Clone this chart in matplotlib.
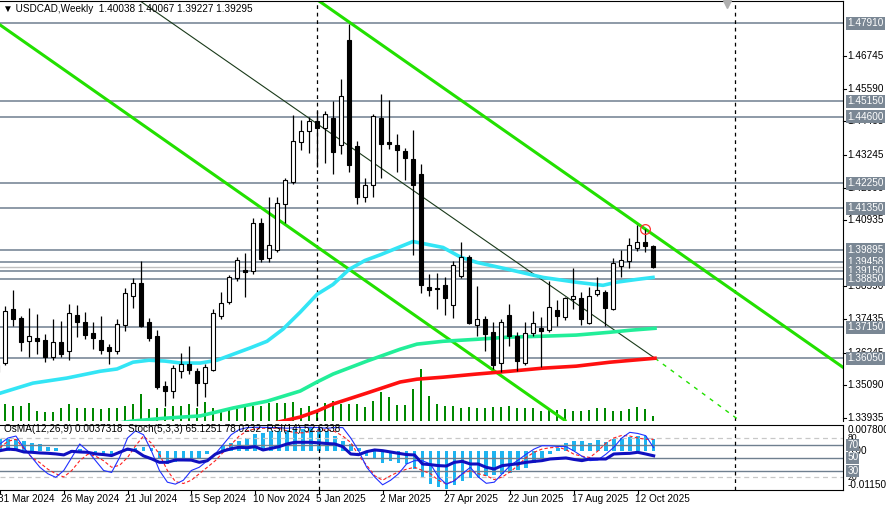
import matplotlib
matplotlib.use("Agg")
import matplotlib.pyplot as plt
import numpy as np

# weekly USDCAD bars, index 0 = 31 Mar 2024
opens = [1.3581,1.3588,1.3778,1.3746,1.3665,1.3676,1.3669,1.3609,1.3662,1.3630,
         1.3757,1.3732,1.3694,1.3669,1.3644,1.3630,1.3722,1.3824,1.3870,1.3732,
         1.3683,1.3506,1.3489,1.3559,1.3584,1.3559,1.3517,1.3563,1.3754,1.3803,
         1.3888,1.3919,1.3912,1.4085,1.3958,1.3987,1.4152,1.4230,1.4371,1.4410,
         1.4445,1.4421,1.4456,1.4361,1.4731,1.4357,1.4177,1.4219,1.4456,1.4371,
         1.4361,1.4339,1.4311,1.4258,1.3856,1.3852,1.3863,1.3792,1.3895,1.3965,
         1.3722,1.3743,1.3697,1.3588,1.3757,1.3683,1.3588,1.3694,1.3711,1.3704,
         1.3775,1.3750,1.3814,1.3817,1.3729,1.3831,1.3838,1.3778,1.3930,1.3948,
         1.3994,1.4015,1.40038]
highs = [1.3634,1.3789,1.3845,1.3754,1.3782,1.3761,1.3690,1.3743,1.3736,1.3796,
         1.3792,1.3768,1.3732,1.3754,1.3655,1.3743,1.3852,1.3888,1.3948,1.3746,
         1.3704,1.3524,1.3581,1.3623,1.3648,1.3570,1.3584,1.3778,1.3838,1.3898,
         1.3962,1.3976,1.4103,1.4103,1.4177,1.4174,1.4244,1.4467,1.4449,1.4460,
         1.4481,1.4481,1.4516,1.4594,1.4788,1.4375,1.4244,1.4470,1.4541,1.4520,
         1.4400,1.4350,1.4414,1.4294,1.3902,1.3905,1.3891,1.3948,1.4015,1.3972,
         1.3859,1.3754,1.3732,1.3743,1.3796,1.3697,1.3732,1.3771,1.3750,1.3877,
         1.3810,1.3821,1.3923,1.3838,1.3856,1.3891,1.3845,1.3958,1.3987,1.4032,
         1.4075,1.4064,1.40067]
lows = [1.3535,1.3581,1.3718,1.3630,1.3609,1.3619,1.3591,1.3598,1.3609,1.3598,
        1.3680,1.3672,1.3637,1.3619,1.3584,1.3619,1.3701,1.3782,1.3715,1.3665,
        1.3496,1.3436,1.3464,1.3535,1.3549,1.3436,1.3468,1.3559,1.3743,1.3796,
        1.3877,1.3821,1.3902,1.3944,1.3944,1.3980,1.4085,1.4223,1.4343,1.4332,
        1.4280,1.4297,1.4258,1.4329,1.4265,1.4149,1.4159,1.4177,1.4241,1.4347,
        1.4265,1.4234,1.3969,1.3835,1.3824,1.3778,1.3757,1.3746,1.3888,1.3725,
        1.3683,1.3630,1.3567,1.3556,1.3648,1.3559,1.3581,1.3683,1.3574,1.3697,
        1.3718,1.3739,1.3778,1.3722,1.3725,1.3824,1.3718,1.3775,1.3891,1.3926,
        1.3983,1.3980,1.39227]
closes = [1.3556,1.3771,1.3743,1.3662,1.3683,1.3665,1.3609,1.3662,1.3619,1.3764,
          1.3732,1.3687,1.3676,1.3634,1.3630,1.3725,1.3835,1.3870,1.3718,1.3676,
          1.3503,1.3489,1.3570,1.3584,1.3563,1.3517,1.3574,1.3764,1.3799,1.3891,
          1.3951,1.3909,1.4085,1.3955,1.4004,1.4156,1.4234,1.4375,1.4410,1.4445,
          1.4421,1.4470,1.4336,1.4534,1.4287,1.4177,1.4219,1.4463,1.4364,1.4364,
          1.4343,1.4315,1.4219,1.3863,1.3845,1.3849,1.3817,1.3934,1.3965,1.3729,
          1.3743,1.3690,1.3581,1.3732,1.3683,1.3595,1.3694,1.3729,1.3701,1.3785,
          1.3754,1.3817,1.3824,1.3743,1.3824,1.3845,1.3782,1.3941,1.3951,1.4004,
          1.4018,1.4001,1.39295]
volumes = [50,52,45,45,53,30,28,28,38,50,38,38,38,35,38,38,45,52,80,35,
           38,40,45,45,50,40,57,40,30,35,35,45,45,45,53,53,55,57,38,45,
           32,55,60,50,50,50,42,60,88,72,48,48,95,155,75,50,45,45,40,42,
           38,40,42,42,45,38,40,38,30,32,32,35,30,30,32,38,38,30,30,35,
           43,35,15]

# moving averages (bar index, price)
ma_fast_x = [0,4.5,8.75,12.9,15,17,19,21,23,25.4,27.5,29.5,31.6,33.75,35.75,37.9,40,42,44,46,48,52,55.75,58,60,64,68.25,72.4,75.75,77.4,80,82]
ma_fast_y = [1.3478,1.3517,1.3535,1.3559,1.3567,1.3591,1.3598,1.3595,1.3588,1.3588,1.3598,1.3619,1.3641,1.3665,1.3708,1.3768,1.3831,1.3866,1.3919,1.3951,1.3972,1.4018,1.3997,1.3962,1.3944,1.3919,1.3891,1.3874,1.3863,1.3874,1.3884,1.3891]
ma_mid_x = [15,17,21,25.4,29.5,33.75,37.9,40,42,46.25,50.4,52.5,55.75,59.9,64.1,68.25,72.4,76.6,79.1,82.25]
ma_mid_y = [1.3375,1.3383,1.3393,1.3401,1.3429,1.3453,1.3489,1.3521,1.3549,1.3595,1.3637,1.3655,1.3665,1.3672,1.3680,1.3683,1.3687,1.3697,1.3704,1.3711]
ma_slow_x = [34.5,35.75,37.9,40,42,46.25,50.4,52.5,55.75,59.9,64.1,68.25,72.4,76.6,82.25]
ma_slow_y = [1.3375,1.3383,1.3397,1.3418,1.3443,1.3482,1.3521,1.3531,1.3538,1.3549,1.3559,1.3570,1.3577,1.3591,1.3605]

levels = [1.47910,1.45150,1.44600,1.42250,1.41350,1.39895,1.39458,1.39150,1.38850,1.37150,1.36050]
price_ticks = [1.46745,1.45590,1.44435,1.43245,1.42090,1.40935,1.38590,1.37435,1.36245,1.35090,1.33935]
bid = 1.39295

# trend lines (bar index, price)
chan_a = ([0,71],[1.4792,1.3385])
chan_b = ([40,105.75],[1.4874,1.3573])
mid_line = ([18,82.25],[1.4867,1.3605])
mid_ext = ([82.25,92.9],[1.3605,1.3383])
vlines_at = [40,92.25]

# oscillators
osma = [0.00356,0.00356,0.00356,0.00307,0.00257,0.00228,0.00129,0.00089,0.0001,0.0003,
        0.00059,0.0001,-0.0004,-0.00089,-0.00089,-0.0004,0.0003,0.00109,0.00129,0.00109,
        -0.00208,-0.00366,-0.00307,-0.00287,-0.00267,-0.00188,-0.00089,0.0001,0.00158,0.00257,
        0.00307,0.00406,0.00505,0.00554,0.00604,0.00604,0.00624,0.00653,0.00653,0.00683,
        0.00653,0.00604,0.00455,0.00307,0.00208,0.00109,-0.00139,-0.00238,-0.00337,-0.00287,
        -0.00337,-0.00386,-0.00535,-0.00782,-0.0098,-0.01059,-0.01129,-0.0100,-0.00881,-0.00782,
        -0.00802,-0.00733,-0.00703,-0.00683,-0.00634,-0.00564,-0.00485,-0.00337,-0.00208,-0.00089,
        0.00109,0.00257,0.00307,0.00307,0.00257,0.00327,0.00277,0.00356,0.00406,0.00426,
        0.00455,0.00455,0.00373]
stoch_main = [70.8,80,83,65,50,35,25,19.5,30,50,70.8,60,45,30,27,50,80,91,85,60,
              30,12,9,15,30,35,45,55.4,70,85,93,96,96.4,96.4,96,96,95,96,96.4,96.4,
              96,95,96,96,80,60,35,20,8,15,25,40,45.2,45,40,20,9,14,25,34.9,
              20,10.3,12,25,37.5,46,55,63,68.2,68,67,66.7,60,52,45.2,46.2,55,65.7,80,88.7,
              87,83.6,65.1]
stoch_sig = [65,75,78,63,50,42,32,25,20,30,45,55,52,45,35,38,50,68,83,72,
             55,30,13,10,15,25,35,45,58,70,83,91,94,95,95,95,91,88,88,90,
             91,93,90,83,73,53,38,22,15,22,28,32,35,30,25,15,9.3,15,25,30,
             25,22,16,20,28,38,50,58,63,65,66,62,55,52,50,60,72,80,84,83,
             80,78,78]
rsi = [60.5,63,62,58.5,58,57,56.5,55.5,54,59.5,58.5,58,55.5,54.5,53,58,63,60.5,52.5,48,
       42.6,42.6,46.2,46.2,46,42.6,45,55,60,63.5,65.7,65,66.7,61.6,64,66.7,70.8,73.4,73.4,73.4,
       72.5,71.5,70.8,66.7,55.4,54.4,59,61.6,60.5,58.5,56.4,54.5,53.9,40,39,37.5,36.9,42.6,44.1,40,
       40,34.9,32.3,37.5,39,40.5,42.6,44,45.2,47.7,48.5,49.3,47,45.2,47.7,47.7,47.7,55.4,56,56.4,
       58,55.4,52.6]

date_idx = [0,8,16,24,32,40,48,56,64,72,80]
date_labels = ["31 Mar 2024","26 May 2024","21 Jul 2024","15 Sep 2024","10 Nov 2024","5 Jan 2025",
               "2 Mar 2025","27 Apr 2025","22 Jun 2025","17 Aug 2025","12 Oct 2025"]

W, H = 886, 509
fig = plt.figure(figsize=(W/100, H/100), dpi=100)
plt.rcParams['font.family'] = ['Liberation Sans', 'DejaVu Sans']
fs = 7.2
lvl_col = '#6f7f8f'
green = '#22e000'
xlim = (0.375, 105.75)

ax = fig.add_axes([0, (H-421)/H, 843/W, 420/H])
ax.set_xlim(*xlim)
ax.set_ylim(1.3383, 1.4869)

axv = ax.twinx()
axv.set_ylim(0, 1263)
axv.bar(range(len(volumes)), volumes, width=0.18, color='#008800', zorder=1)
axv.set_yticks([])
axv.set_zorder(0)
ax.set_zorder(1)
ax.patch.set_visible(False)

for lv in levels:
    ax.axhline(lv, color=lvl_col, lw=1.1, zorder=1)
ax.axhline(bid, color='#c0c0c0', lw=1.0, zorder=1)

for v in vlines_at:
    ax.axvline(v, color='black', lw=0.9, ls=(0, (3, 3)), zorder=1)

ax.plot(*chan_a, color=green, lw=2.2, zorder=2)
ax.plot(*chan_b, color=green, lw=2.2, zorder=2)
ax.plot(*mid_line, color='#1a3a1a', lw=0.8, zorder=2)
ax.plot(*mid_ext, color=green, lw=1.0, ls=(0, (3, 4)), zorder=2)

ax.plot(ma_fast_x, ma_fast_y, color='#33e5f5', lw=2.6, zorder=3)
ax.plot(ma_mid_x, ma_mid_y, color='#22ee99', lw=2.6, zorder=3)
ax.plot(ma_slow_x, ma_slow_y, color='#ff1010', lw=2.6, zorder=3)

for i in range(len(opens)):
    o, h, l, c = opens[i], highs[i], lows[i], closes[i]
    ax.vlines(i, l, h, color='black', lw=0.9, zorder=4)
    fc = 'white' if c >= o else 'black'
    ax.bar(i, max(abs(c - o), 0.0003), bottom=min(o, c), width=0.62,
           color=fc, edgecolor='black', lw=0.8, zorder=5)

ax.plot(81, 1.4064, 'o', ms=7, mfc='none', mec='#ff3030', mew=0.9, zorder=6)
ax.plot(91.2, 1.4860, 'v', ms=6, color='#b0b0b0', zorder=6, clip_on=False)

ax.set_xticks([]); ax.set_yticks([])
for s in ['left', 'bottom']:
    ax.spines[s].set_visible(False)
for s in axv.spines.values():
    s.set_visible(False)

tr = ax.get_yaxis_transform()
for t in price_ticks:
    ax.text(1.005, t, f"{t:.5f}", transform=tr, fontsize=fs, va='center', ha='left', clip_on=False, zorder=7)
    ax.plot([1.0, 1.003], [t, t], transform=tr, color='black', lw=0.8, clip_on=False)
for lv in levels:
    ax.text(1.005, lv, f"{lv:.5f}", transform=tr, fontsize=fs, va='center', ha='left', color='white',
            clip_on=False, zorder=8,
            bbox=dict(boxstyle='square,pad=0.15', fc='#7a8794', ec='none'))

fig.text(3/W, 1 - 9/H, "\u25BC USDCAD,Weekly  1.40038 1.40067 1.39227 1.39295", fontsize=fs, va='center')

# lower panel
ax2 = fig.add_axes([0, (H-490)/H, 843/W, 65/H])
ax2.set_xlim(*xlim)
ax2.set_ylim(0, 100)
axo = ax2.twinx()
axo.set_ylim(-0.011505, 0.0078)
axo.bar(range(len(osma)), osma, width=0.45, color='#1eb4f0', zorder=1)
axo.set_yticks([])
axo.set_zorder(0); ax2.set_zorder(1); ax2.patch.set_visible(False)
for lv in [80, 20]:
    ax2.axhline(lv, color='#c8c8c8', lw=0.9, ls=(0, (4, 3)))
for lv in [70, 50, 30]:
    ax2.axhline(lv, color=lvl_col, lw=1.0)
for v in vlines_at:
    ax2.axvline(v, color='black', lw=0.9, ls=(0, (3, 3)))
xs = range(len(rsi))
ax2.plot(xs, stoch_sig, color='#ff2020', lw=0.8, ls=(0, (3, 2)))
ax2.plot(xs, stoch_main, color='#2030ff', lw=0.8)
ax2.plot(xs, rsi, color='#1010c0', lw=2.2)
ax2.set_yticks([])
ax2.set_xticks(date_idx)
ax2.set_xticklabels([])
ax2.tick_params(axis='x', length=3, width=0.8)
for s in ['left']:
    ax2.spines[s].set_visible(False)
for s in axo.spines.values():
    s.set_visible(False)
for d, lab in zip(date_idx, date_labels):
    ax2.text(d - 0.3, -14, lab, fontsize=fs, ha='left', va='center', clip_on=False)
ax2.text(0.5, 94, "OsMA(12,26,9) 0.0037318  Stoch(5,3,3) 65.1251 78.0232  RSI(14) 52.6338",
         fontsize=fs, va='center')
tr2 = ax2.get_yaxis_transform()
ax2.text(1.005, 92, "0.007800", transform=tr2, fontsize=fs, va='center', clip_on=False)
ax2.text(1.005, 80, "80", transform=tr2, fontsize=fs-1, va='center', clip_on=False)
ax2.text(1.005, 60, "0.00", transform=tr2, fontsize=fs, va='center', clip_on=False)
ax2.text(1.005, 20, "20", transform=tr2, fontsize=fs-1, va='center', clip_on=False)
ax2.text(1.005, 7, "-0.011505", transform=tr2, fontsize=fs, va='center', clip_on=False)
for lv in [70, 50, 30]:
    ax2.text(1.005, lv, str(lv), transform=tr2, fontsize=fs, va='center', color='white', clip_on=False,
             bbox=dict(boxstyle='square,pad=0.1', fc='#7a8794', ec='none'))

fig.savefig("out.png", dpi=100)
